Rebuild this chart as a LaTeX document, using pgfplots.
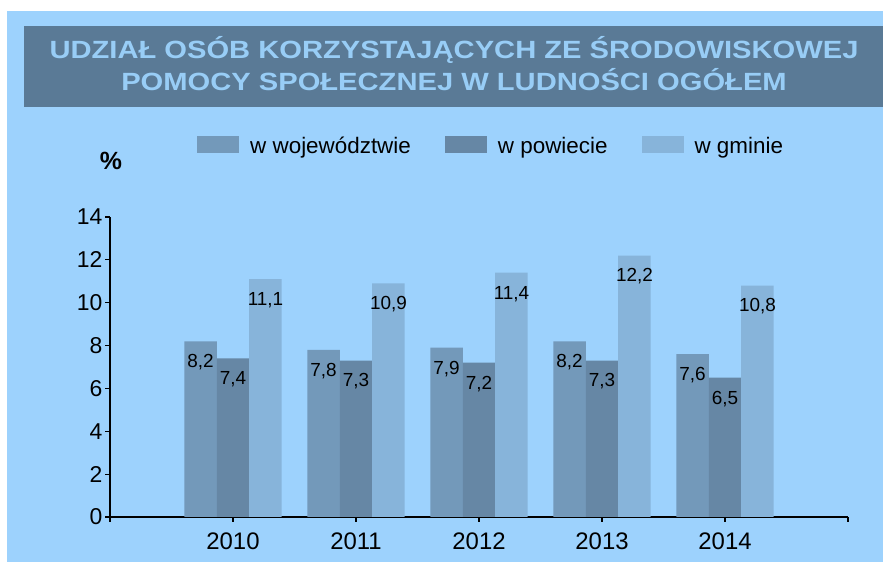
\documentclass[border=0pt]{standalone}
\usepackage{pgfplots}
\pgfplotsset{compat=1.18}
\usepackage{fontspec}
\setmainfont{Liberation Sans}
\definecolor{bgblue}{HTML}{9DD2FD}
\definecolor{titlebox}{HTML}{5A7A96}
\definecolor{titletext}{HTML}{98CDF6}
\definecolor{barA}{HTML}{7399BA}
\definecolor{barB}{HTML}{6687A5}
\definecolor{barC}{HTML}{87B4DA}
\begin{document}
\begin{tikzpicture}[x=1bp,y=1bp]
\useasboundingbox (0,0) rectangle (883,562);
\fill[white] (0,0) rectangle (883,562);
\fill[bgblue] (7,0) rectangle (883,551);
\fill[titlebox] (24,455) rectangle (883,536);
\node[anchor=base, text=titletext, inner sep=0pt] at (454,503) {\scalebox{1.17}[1]{\fontsize{25}{30}\selectfont\bfseries UDZIAŁ OSÓB KORZYSTAJĄCYCH ZE ŚRODOWISKOWEJ}};
\node[anchor=base, text=titletext, inner sep=0pt] at (454,471) {\scalebox{1.17}[1]{\fontsize{25}{30}\selectfont\bfseries POMOCY SPOŁECZNEJ W LUDNOŚCI OGÓŁEM}};
\node[anchor=center, inner sep=0pt] at (111,401) {\fontsize{25}{30}\selectfont\bfseries \%};
\begin{axis}[
  at={(110bp,45bp)}, anchor=south west,
  scale only axis, width=738bp, height=300bp,
  xmin=-1, xmax=5, ymin=0, ymax=14,
  separate axis lines,
  axis x line=bottom, axis y line=left,
  axis line style={-, black, line width=1.6bp},
  ytick={0,2,...,14},
  xtick={-1,0,1,2,3,4,5},
  xticklabels={,2010,2011,2012,2013,2014,},
  tick align=outside, major tick length=5bp,
  tick style={black, line width=1.2bp},
  ybar=0pt, bar width=0.264,
  /pgf/number format/assume math mode=true,
  yticklabel style={font=\fontsize{23}{27}\selectfont, text=black, xshift=1bp},
  xticklabel style={font=\fontsize{24}{28}\selectfont, text=black, yshift=-7bp},
  nodes near coords={\pgfmathprintnumber[use comma,fixed,fixed zerofill,precision=1]{\pgfplotspointmeta}},
  every node near coord/.append style={font=\fontsize{19}{23}\selectfont, anchor=center, yshift=-21bp, text=black},
  legend columns=3,
  legend cell align=left,
  legend style={at={(axis description cs:0.1179,1.2383)}, anchor=west, draw=none, fill=none, inner sep=0pt,
    font=\fontsize{22.5}{26}\selectfont,
    nodes={inner sep=0pt, yshift=-1bp},
    /tikz/every odd column/.append style={column sep=11bp},
    /tikz/every even column/.append style={column sep=34bp}},
]
\addplot[fill=barA, draw=none, legend image code/.code={\fill[barA] (0bp,-8.5bp) rectangle (42bp,8.5bp);}] coordinates {(0,8.2) (1,7.8) (2,7.9) (3,8.2) (4,7.6)};
\addplot[fill=barB, draw=none, legend image code/.code={\fill[barB] (0bp,-8.5bp) rectangle (42bp,8.5bp);}] coordinates {(0,7.4) (1,7.3) (2,7.2) (3,7.3) (4,6.5)};
\addplot[fill=barC, draw=none, legend image code/.code={\fill[barC] (0bp,-8.5bp) rectangle (42bp,8.5bp);}] coordinates {(0,11.1) (1,10.9) (2,11.4) (3,12.2) (4,10.8)};
\legend{w województwie, w powiecie, w gminie}
\end{axis}
\end{tikzpicture}
\end{document}
